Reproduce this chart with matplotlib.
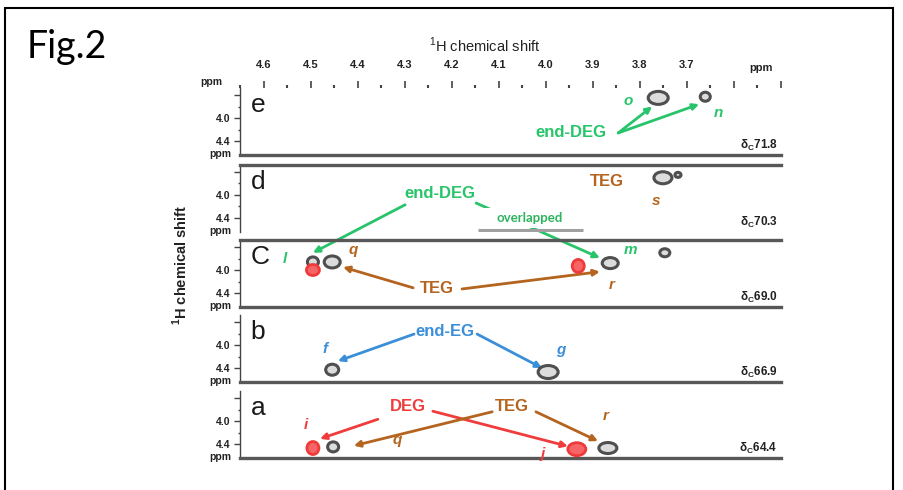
import matplotlib
matplotlib.use('Agg')
import matplotlib.pyplot as plt
from matplotlib.patches import Ellipse, Rectangle
from matplotlib.ticker import FixedLocator, FixedFormatter

plt.rcParams['font.family'] = ['Liberation Sans', 'DejaVu Sans']

W, H = 904, 490
GREEN = '#27c46a'
BROWN = '#b4641e'
RED = '#f03c3c'
BLUE = '#3a8fd8'
PEAKGRAY = '#4f4f4f'
LINEGRAY = '#585858'

# ---------------- data ----------------
panel_ids = ['e', 'd', 'c', 'b', 'a']
panel_letters = ['e', 'd', 'C', 'b', 'a']
carbon_shifts = ['71.8', '70.3', '69.0', '66.9', '64.4']

x_ticks = [4.6, 4.5, 4.4, 4.3, 4.2, 4.1, 4.0, 3.9, 3.8, 3.7, 3.6, 3.5]
x_tick_labels = ['4.6', '4.5', '4.4', '4.3', '4.2', '4.1', '4.0', '3.9', '3.8', '3.7', '', '']
y_ticks = [3.6, 4.0, 4.4]
y_tick_labels = ['', '4.0', '4.4']

# peak centres (1H ppm, 1H ppm) and type ('g' gray contour / 'r' red contour)
peak_x = {
    'e': [3.761, 3.661],
    'd': [3.751, 3.719],
    'c': [4.495, 4.454, 4.495, 3.931, 3.863, 3.747],
    'b': [4.454, 3.995],
    'a': [4.495, 4.452, 3.934, 3.868],
}
peak_y = {
    'e': [3.65, 3.63],
    'd': [3.70, 3.65],
    'c': [3.86, 3.86, 4.00, 3.93, 3.88, 3.70],
    'b': [4.43, 4.47],
    'a': [4.47, 4.45, 4.49, 4.47],
}
peak_kind = {
    'e': ['g', 'g'],
    'd': ['g', 'g'],
    'c': ['g', 'g', 'r', 'r', 'g', 'g'],
    'b': ['g', 'g'],
    'a': ['r', 'g', 'r', 'g'],
}
# contour sizes in pixels (style)
peak_size = {
    'e': [(20, 13), (10, 9)],
    'd': [(18, 12), (6, 5)],
    'c': [(11, 10), (16, 12), (13, 11), (12, 13), (16, 11), (10, 8)],
    'b': [(13, 11), (20, 13)],
    'a': [(12, 13), (11, 10), (18, 13), (18, 11)],
}

# ---------------- layout ----------------
fig = plt.figure(figsize=(W / 100, H / 100), dpi=100)
fig.patch.set_facecolor('white')

XL, XR = 240, 781
XMIN, XMAX = 4.65, 3.5
YTOP, YBOT = 3.48, 4.65
PXY = 57.5  # px per ppm vertically
y40_px = [118, 195, 270, 345, 421]

thick = {
    'e': ['bottom'],
    'd': ['top'],
    'c': ['top', 'bottom'],
    'b': ['bottom'],
    'a': ['bottom'],
}

axes = {}
for pid, y40 in zip(panel_ids, y40_px):
    top = y40 - (4.0 - YTOP) * PXY
    bot = y40 + (YBOT - 4.0) * PXY
    ax = fig.add_axes([XL / W, 1 - bot / H, (XR - XL) / W, (bot - top) / H])
    ax.set_facecolor('none')
    ax.set_xlim(XMIN, XMAX)
    ax.set_ylim(YBOT, YTOP)
    for s in ['top', 'bottom', 'right', 'left']:
        ax.spines[s].set_visible(False)
    ax.spines['left'].set_visible(True)
    ax.spines['left'].set_linewidth(1.0)
    ax.spines['left'].set_color('#444444')
    for s in thick[pid]:
        ax.spines[s].set_visible(True)
        ax.spines[s].set_linewidth(2.4)
        ax.spines[s].set_color(LINEGRAY)
    ax.yaxis.set_major_locator(FixedLocator(y_ticks))
    ax.yaxis.set_major_formatter(FixedFormatter(y_tick_labels))
    ax.yaxis.set_minor_locator(FixedLocator([3.8, 4.2]))
    ax.tick_params(axis='y', which='major', direction='out', length=4, width=1,
                   color='#444444', pad=3, labelsize=7.5)
    ax.tick_params(axis='y', which='minor', direction='out', length=1.5, width=1,
                   color='#444444')
    for lab in ax.get_yticklabels():
        lab.set_fontweight('bold')
        lab.set_color('#222222')
    ax.text(-0.017, 4.63, 'ppm', transform=ax.get_yaxis_transform(), ha='right',
            va='center', fontsize=7.5, fontweight='bold', color='#222222')
    if pid == 'e':
        ax.xaxis.tick_top()
        ax.xaxis.set_major_locator(FixedLocator(x_ticks))
        ax.xaxis.set_major_formatter(FixedFormatter(x_tick_labels))
        ax.xaxis.set_minor_locator(FixedLocator([t + 0.05 for t in x_ticks]))
        ax.tick_params(axis='x', which='major', direction='out', length=5, width=1.2,
                       color='#444444', pad=8, labelsize=8)
        ax.tick_params(axis='x', which='minor', direction='out', length=2, width=1.5,
                       color='#444444')
        for lab in ax.get_xticklabels():
            lab.set_fontweight('bold')
            lab.set_color('#222222')
    else:
        ax.set_xticks([])
    axes[pid] = ax

    # peaks
    for x, y, k, (wp, hp) in zip(peak_x[pid], peak_y[pid], peak_kind[pid], peak_size[pid]):
        if k == 'g':
            e = Ellipse((x, y), wp / 470.4, hp / PXY, facecolor='#dcdcdc',
                        edgecolor=PEAKGRAY, lw=2.2, zorder=4)
        else:
            e = Ellipse((x, y), wp / 470.4, hp / PXY, facecolor='#f56565',
                        edgecolor='#f03a3a', lw=2.0, zorder=4)
        ax.add_patch(e)

# panel letters and carbon shifts
for pid, letter, cs in zip(panel_ids, panel_letters, carbon_shifts):
    ax = axes[pid]
    ax.text(4.627, 3.9, letter, fontsize=19, ha='left', va='baseline', color='#1a1a1a')
    ax.text(3.507, 4.53, 'δ$_\\mathregular{C}$' + cs, fontsize=8.5, fontweight='bold',
            ha='right', va='baseline', color='#222222')


def lab(ax, x, y, s, c, size=12, italic=False):
    ax.text(x, y, s, color=c, fontsize=size, fontweight='bold',
            fontstyle='italic' if italic else 'normal', ha='center', va='center', zorder=6)


def arr(ax, tail, head, c, xyax=None, txtax=None):
    xyax = xyax or ax
    txtax = txtax or ax
    ax.annotate('', xy=head, xycoords=xyax.transData, xytext=tail,
                textcoords=txtax.transData, annotation_clip=False,
                arrowprops=dict(arrowstyle='-|>', color=c, lw=2.0, mutation_scale=9,
                                shrinkA=0, shrinkB=0), zorder=3)


# panel e
ax = axes['e']
lab(ax, 3.825, 3.70, 'o', GREEN, 11, True)
lab(ax, 3.634, 3.91, 'n', GREEN, 11, True)
lab(ax, 3.946, 4.26, 'end-DEG', GREEN)
arr(ax, (3.846, 4.26), (3.774, 3.80), GREEN)
arr(ax, (3.846, 4.26), (3.674, 3.76), GREEN)

# panel d
ax = axes['d']
lab(ax, 3.870, 3.76, 'TEG', BROWN)
lab(ax, 3.766, 4.10, 's', BROWN, 11, True)
lab(ax, 4.225, 3.97, 'end-DEG', GREEN)
arr(ax, (4.299, 4.17), (4.495, 3.70), GREEN, xyax=axes['c'])
arr(ax, (4.148, 4.14), (3.885, 3.79), GREEN, xyax=axes['c'])
ax.add_patch(Rectangle((3.920, 4.226), 4.144 - 3.920, 0.35, facecolor='white',
                       edgecolor='none', zorder=5))
ax.text(4.034, 4.40, 'overlapped', fontsize=9.5, fontweight='bold', color='#2eb45e',
        ha='center', va='center', zorder=6, family=['Lato', 'DejaVu Sans'])
ax.plot([4.144, 3.920], [4.61, 4.61], color='#a0a0a0', lw=2.2, zorder=6,
        solid_capstyle='butt')

# panel c
ax = axes['c']
lab(ax, 4.554, 3.81, 'l', GREEN, 11, True)
lab(ax, 4.410, 3.65, 'q', BROWN, 11, True)
lab(ax, 3.819, 3.65, 'm', GREEN, 11, True)
lab(ax, 3.859, 4.26, 'r', BROWN, 11, True)
lab(ax, 4.231, 4.33, 'TEG', BROWN)
arr(ax, (4.282, 4.31), (4.431, 3.95), BROWN)
arr(ax, (4.178, 4.33), (3.885, 4.03), BROWN)

# panel b
ax = axes['b']
lab(ax, 4.469, 4.07, 'f', BLUE, 11, True)
lab(ax, 3.968, 4.09, 'g', BLUE, 11, True)
lab(ax, 4.214, 3.77, 'end-EG', BLUE)
arr(ax, (4.280, 3.81), (4.442, 4.28), BLUE)
arr(ax, (4.146, 3.81), (4.008, 4.40), BLUE)

# panel a
ax = axes['a']
lab(ax, 4.510, 4.07, 'i', RED, 11, True)
lab(ax, 4.006, 4.58, 'j', RED, 11, True)
lab(ax, 4.316, 4.33, 'q', BROWN, 11, True)
lab(ax, 3.872, 3.91, 'r', BROWN, 11, True)
lab(ax, 4.293, 3.74, 'DEG', RED)
lab(ax, 4.072, 3.74, 'TEG', BROWN)
arr(ax, (4.357, 3.97), (4.480, 4.31), RED)
arr(ax, (4.240, 3.83), (3.953, 4.44), RED)
arr(ax, (4.114, 3.84), (4.408, 4.43), BROWN)
arr(ax, (4.021, 3.84), (3.889, 4.35), BROWN)

# figure-level texts
fig.text(485 / W, 1 - 45 / H, '$^\\mathregular{1}$H chemical shift', ha='center',
         va='center', fontsize=10.5, color='#222222')
fig.text(180 / W, 1 - 265 / H, '$^\\mathregular{1}$H chemical shift', ha='center',
         va='center', fontsize=10.5, fontweight='bold', rotation=90, color='#222222')
fig.text(211 / W, 1 - 82 / H, 'ppm', ha='center', va='center', fontsize=7.5,
         fontweight='bold', color='#222222')
fig.text(761 / W, 1 - 68 / H, 'ppm', ha='center', va='center', fontsize=8,
         fontweight='bold', color='#222222')
fig.text(27 / W, 1 - 58 / H, 'Fig.2', ha='left', va='baseline', fontsize=27,
         family=['Lato', 'DejaVu Sans'], color='black')

# outer frame
fig.add_artist(Rectangle((5 / W, -0.05), (893 - 5) / W, 1.05 - 8 / H,
                         transform=fig.transFigure, fill=False, edgecolor='black',
                         lw=1.5))

fig.savefig('out.png', dpi=100, facecolor='white')
